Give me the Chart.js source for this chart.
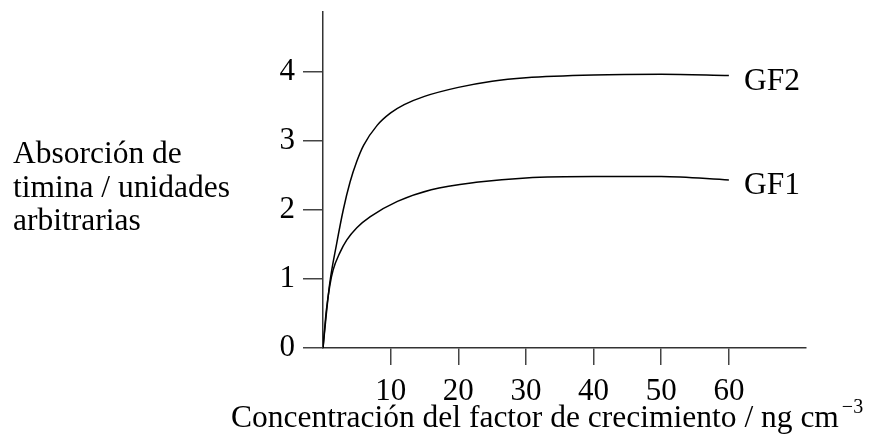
<!DOCTYPE html>
<html>
<head>
<meta charset="utf-8">
<script src="https://cdn.jsdelivr.net/npm/chart.js@4"></script>
<style>
  body { margin: 0; background: #fff; }
  #wrap { width: 874px; height: 441px; }
</style>
</head>
<body>
<div id="wrap"><canvas id="chart" width="874" height="441"></canvas></div>
<script>
// Data
const gf1X = [0, 0.5, 1, 1.5, 2.5, 3.5, 5, 7, 11, 16, 23, 30, 40, 50, 60];
const gf1Y = [0, 0.55, 0.9, 1.13, 1.38, 1.56, 1.74, 1.9, 2.12, 2.29, 2.4, 2.46, 2.48, 2.48, 2.43];
const gf2X = [0, 0.5, 1, 2, 3, 4, 5, 6, 8, 10, 12, 15, 20, 25, 30, 40, 50, 60];
const gf2Y = [0, 0.5, 0.94, 1.5, 2.0, 2.4, 2.7, 2.93, 3.22, 3.4, 3.52, 3.64, 3.77, 3.86, 3.91, 3.95, 3.96, 3.94];
const seriesNames = ['GF1', 'GF2'];
const xTicks = [10, 20, 30, 40, 50, 60];
const yTicks = [0, 1, 2, 3, 4];
const yTitleLines = ['Absorción de', 'timina / unidades', 'arbitrarias'];
const xTitle = 'Concentración del factor de crecimiento / ng cm';
const xTitleSup = '−3';

const FONT_FAMILY = '"Liberation Serif", "Times New Roman", serif';

function toPoints(xs, ys) {
    return xs.map((x, i) => ({ x: x, y: ys[i] }));
}

// Draws the horizontal y title, the x title and the series names
const labelPlugin = {
    id: 'labels',
    afterDraw(chart) {
        const c = chart.ctx;
        c.save();
        c.fillStyle = '#000';
        c.textAlign = 'left';
        c.textBaseline = 'alphabetic';
        c.font = '31.5px ' + FONT_FAMILY;
        yTitleLines.forEach((t, i) => c.fillText(t, 13, 163 + i * 33.5));

        const w = c.measureText(xTitle).width;
        c.fillText(xTitle, 231, 427);
        c.font = '20px ' + FONT_FAMILY;
        c.fillText(xTitleSup, 231 + w + 3, 413);

        c.font = '31.5px ' + FONT_FAMILY;
        chart.data.datasets.forEach((ds, i) => {
            const pts = chart.getDatasetMeta(i).data;
            const last = pts[pts.length - 1];
            c.fillText(ds.label, last.x + 15, last.y + 14);
        });
        c.restore();
    }
};

const ctx = document.getElementById('chart').getContext('2d');
const chart = new Chart(ctx, {
    type: 'line',
    data: {
        datasets: [
            { label: seriesNames[0], data: toPoints(gf1X, gf1Y) },
            { label: seriesNames[1], data: toPoints(gf2X, gf2Y) }
        ]
    },
    options: {
        responsive: false,
        animation: false,
        layout: { padding: { top: 12, right: 68, left: 0, bottom: 0 } },
        elements: {
            point: { radius: 0 },
            line: { borderColor: '#000', borderWidth: 1.5, cubicInterpolationMode: 'monotone', fill: false }
        },
        plugins: {
            legend: { display: false },
            tooltip: { enabled: false }
        },
        scales: {
            x: {
                type: 'linear',
                min: 0,
                max: 71.4,
                afterBuildTicks: scale => { scale.ticks = xTicks.map(v => ({ value: v })); },
                afterFit: scale => {
                    scale.height = 93;
                    scale.paddingLeft = 0;
                    scale.paddingRight = 0;
                },
                grid: { drawOnChartArea: false, tickLength: 17, color: '#444', lineWidth: 1.5 },
                border: { color: '#333', width: 1.5 },
                ticks: { color: '#000', padding: 8, maxRotation: 0, font: { family: FONT_FAMILY, size: 31 } }
            },
            y: {
                min: 0,
                max: 4.86,
                afterBuildTicks: scale => { scale.ticks = yTicks.map(v => ({ value: v })); },
                afterFit: scale => {
                    scale.width = 323;
                    scale.paddingTop = 0;
                    scale.paddingBottom = 0;
                },
                grid: { drawOnChartArea: false, tickLength: 20, color: '#444', lineWidth: 1.5 },
                border: { color: '#333', width: 1.5 },
                ticks: { color: '#000', padding: 8, font: { family: FONT_FAMILY, size: 31 } }
            }
        }
    },
    plugins: [labelPlugin]
});
</script>
</body>
</html>
